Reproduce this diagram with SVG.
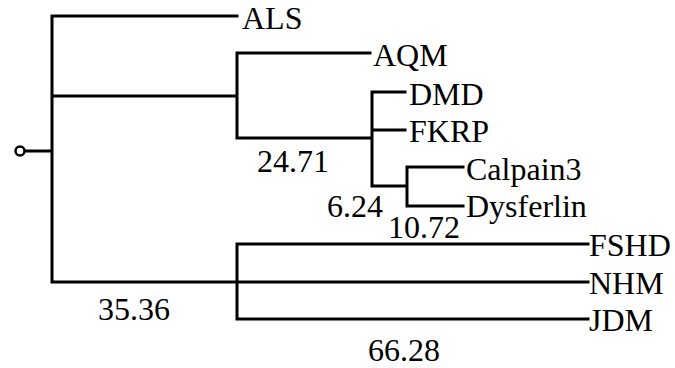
<svg xmlns="http://www.w3.org/2000/svg" width="675" height="368" viewBox="0 0 675 368">
<style>
.e{fill:none;stroke:#000;stroke-width:3;stroke-linecap:square;stroke-linejoin:miter}
.t{font-family:'Liberation Serif','Times New Roman',serif;font-size:32px;fill:#000}
</style>
<rect width="675" height="368" fill="#fff"/>
<g id="connectors">
<path class="e" d="M24,151H52M52,16V282M52,16H237M52,96H237M237,53V138M237,53H370M237,138H372M372,92V186M372,92H405M372,130H405M372,186H407M407,167V206M407,167H463M407,206H463M52,282H588M237,244V319M237,244H588M237,319H588"/>
<circle cx="20" cy="151" r="4.5" fill="#fff" stroke="#000" stroke-width="2.5"/>
</g>
<g id="ALS"><text class="t" x="242" y="29">ALS</text></g>
<g id="AQM"><text class="t" x="373" y="66">AQM</text></g>
<g id="DMD"><text class="t" x="409" y="105">DMD</text></g>
<g id="FKRP"><text class="t" x="409" y="142">FKRP</text></g>
<g id="Calpain3"><text class="t" x="466" y="180">Calpain3</text></g>
<g id="Dysferlin"><text class="t" x="466" y="217">Dysferlin</text></g>
<g id="FSHD"><text class="t" x="589" y="256">FSHD</text></g>
<g id="NHM"><text class="t" x="589" y="294">NHM</text></g>
<g id="JDM"><text class="t" x="589" y="331">JDM</text></g>
<g id="labels">
<text class="t" x="257" y="172">24.71</text>
<text class="t" x="327" y="217">6.24</text>
<text class="t" x="388" y="238">10.72</text>
<text class="t" x="98" y="320">35.36</text>
<text class="t" x="368" y="361">66.28</text>
</g>
</svg>
